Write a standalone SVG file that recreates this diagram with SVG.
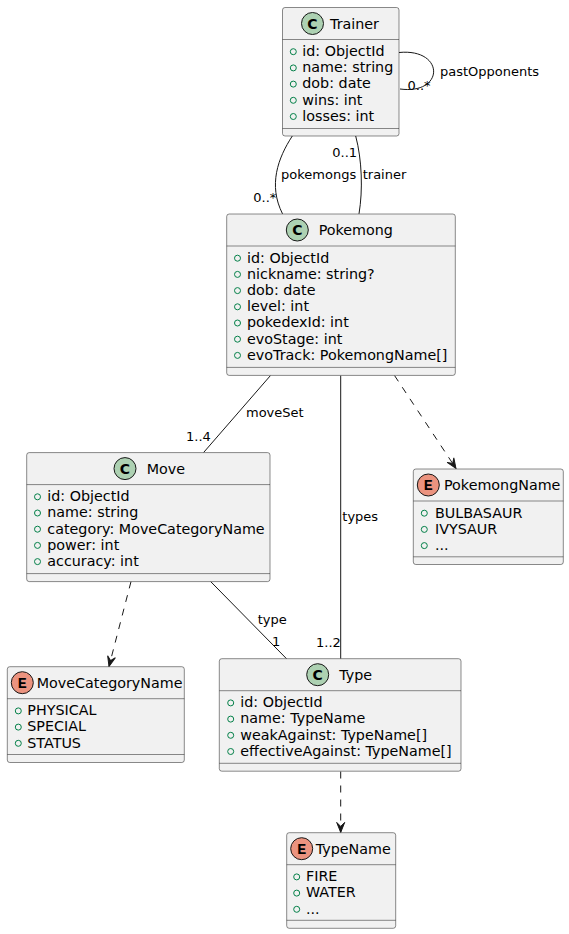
<svg xmlns="http://www.w3.org/2000/svg" width="569" height="934" viewBox="0 0 569 934">
<style>
.box{fill:#F1F1F1;stroke:#181818;stroke-width:0.5}
.div{stroke:#181818;stroke-width:0.5}
.ci{fill:#ADD1B2;stroke:#181818;stroke-width:1}
.ei{fill:#EB937F;stroke:#181818;stroke-width:1}
.cl{font-family:"DejaVu Sans",sans-serif;font-size:14px;font-weight:bold;fill:#000;text-anchor:middle}
.el{font-family:"Liberation Mono","DejaVu Sans Mono",monospace;font-size:15px;font-weight:bold;fill:#000;text-anchor:middle}
.t{font-family:"DejaVu Sans",sans-serif;font-size:14.3px;fill:#000}
.v{fill:none;stroke:#038048;stroke-width:1}
.lb{font-family:"DejaVu Sans",sans-serif;font-size:13px;fill:#000}
.ln{fill:none;stroke:#181818;stroke-width:1}
.dash{fill:none;stroke:#181818;stroke-width:1;stroke-dasharray:7,7}
</style>
<defs>
<marker id="arr" viewBox="-12 -6 13 12" refX="0" refY="0" markerWidth="13" markerHeight="12" orient="auto" markerUnits="userSpaceOnUse">
<path d="M0,0 L-10,-4 L-6,0 L-10,4 Z" fill="#181818" stroke="#181818" stroke-width="1"/>
</marker>
</defs>

<g id="connectors">
<path class="ln" d="M399,52.5 C445,48 445,95 400,89"/>
<path class="ln" d="M292.3,136 C278,158 268,185 282.5,213.8"/>
<path class="ln" d="M355.7,136 C362,160 363,190 359,213.8"/>
<path class="ln" d="M270.5,375.5 L203.5,452.6"/>
<path class="ln" d="M340.7,375.5 L340.7,658.7"/>
<path class="dash" d="M394.5,375.5 L456,468.5" marker-end="url(#arr)"/>
<path class="dash" d="M131,581.6 L109,666.4" marker-end="url(#arr)"/>
<path class="ln" d="M210.7,581.6 L286.5,658.7"/>
<path class="dash" d="M340.7,771.5 L340.7,832.4" marker-end="url(#arr)"/>
<text class="lb" x="440" y="75.5">pastOpponents</text>
<text class="lb" x="407.5" y="89.5">0..*</text>
<text class="lb" x="332.3" y="156.5">0..1</text>
<text class="lb" x="281" y="178.5">pokemongs</text>
<text class="lb" x="362.7" y="178.5">trainer</text>
<text class="lb" x="253.3" y="201.5">0..*</text>
<text class="lb" x="246" y="417">moveSet</text>
<text class="lb" x="186" y="441">1..4</text>
<text class="lb" x="342.3" y="521">types</text>
<text class="lb" x="257.7" y="623.5">type</text>
<text class="lb" x="272" y="646">1</text>
<text class="lb" x="316" y="646.5">1..2</text>
</g>

<g id="Trainer">
<rect class="box" x="282.5" y="7.5" width="116.5" height="128.5" rx="2.5"/>
<circle class="ci" cx="312.5" cy="23.5" r="11"/>
<text class="cl" x="312.5" y="28.5">C</text>
<text class="t" x="330" y="28.8">Trainer</text>
<line class="div" x1="282.5" y1="39.5" x2="399" y2="39.5"/>
<circle class="v" cx="293.3" cy="51.7" r="3"/><text class="t" x="302.3" y="56">id: ObjectId</text>
<circle class="v" cx="293.3" cy="67.9" r="3"/><text class="t" x="302.3" y="72.2">name: string</text>
<circle class="v" cx="293.3" cy="84.1" r="3"/><text class="t" x="302.3" y="88.4">dob: date</text>
<circle class="v" cx="293.3" cy="100.3" r="3"/><text class="t" x="302.3" y="104.6">wins: int</text>
<circle class="v" cx="293.3" cy="116.5" r="3"/><text class="t" x="302.3" y="120.8">losses: int</text>
<line class="div" x1="282.5" y1="128.5" x2="399" y2="128.5"/>
</g>

<g id="Pokemong">
<rect class="box" x="226.7" y="214" width="228.6" height="161.4" rx="2.5"/>
<circle class="ci" cx="297.3" cy="230" r="11"/>
<text class="cl" x="297.3" y="235">C</text>
<text class="t" x="318.7" y="235.3">Pokemong</text>
<line class="div" x1="226.7" y1="246" x2="455.3" y2="246"/>
<circle class="v" cx="237.5" cy="258.2" r="3"/><text class="t" x="247" y="262.5">id: ObjectId</text>
<circle class="v" cx="237.5" cy="274.4" r="3"/><text class="t" x="247" y="278.7">nickname: string?</text>
<circle class="v" cx="237.5" cy="290.6" r="3"/><text class="t" x="247" y="294.9">dob: date</text>
<circle class="v" cx="237.5" cy="306.8" r="3"/><text class="t" x="247" y="311.1">level: int</text>
<circle class="v" cx="237.5" cy="323" r="3"/><text class="t" x="247" y="327.3">pokedexId: int</text>
<circle class="v" cx="237.5" cy="339.2" r="3"/><text class="t" x="247" y="343.5">evoStage: int</text>
<circle class="v" cx="237.5" cy="355.4" r="3"/><text class="t" x="247" y="359.7">evoTrack: PokemongName[]</text>
<line class="div" x1="226.7" y1="367.4" x2="455.3" y2="367.4"/>
</g>

<g id="Move">
<rect class="box" x="26.7" y="452.6" width="243.3" height="129" rx="2.5"/>
<circle class="ci" cx="125" cy="468.6" r="11"/>
<text class="cl" x="125" y="473.6">C</text>
<text class="t" x="146.7" y="473.9">Move</text>
<line class="div" x1="26.7" y1="484.6" x2="270" y2="484.6"/>
<circle class="v" cx="37.5" cy="496.8" r="3"/><text class="t" x="47.3" y="501.1">id: ObjectId</text>
<circle class="v" cx="37.5" cy="513" r="3"/><text class="t" x="47.3" y="517.3">name: string</text>
<circle class="v" cx="37.5" cy="529.2" r="3"/><text class="t" x="47.3" y="533.5">category: MoveCategoryName</text>
<circle class="v" cx="37.5" cy="545.4" r="3"/><text class="t" x="47.3" y="549.7">power: int</text>
<circle class="v" cx="37.5" cy="561.6" r="3"/><text class="t" x="47.3" y="565.9">accuracy: int</text>
<line class="div" x1="26.7" y1="573.6" x2="270" y2="573.6"/>
</g>

<g id="PokemongName">
<rect class="box" x="413.3" y="469" width="150" height="95.5" rx="2.5"/>
<circle class="ei" cx="428.3" cy="485" r="11"/>
<text class="el" x="428.3" y="490">E</text>
<text class="t" x="444" y="490.3">PokemongName</text>
<line class="div" x1="413.3" y1="501" x2="563.3" y2="501"/>
<circle class="v" cx="424.3" cy="513.2" r="3"/><text class="t" x="435" y="517.5">BULBASAUR</text>
<circle class="v" cx="424.3" cy="529.4" r="3"/><text class="t" x="435" y="533.7">IVYSAUR</text>
<circle class="v" cx="424.3" cy="545.6" r="3"/><text class="t" x="435" y="549.9">...</text>
<line class="div" x1="413.3" y1="556.8" x2="563.3" y2="556.8"/>
</g>

<g id="MoveCategoryName">
<rect class="box" x="7.3" y="666.7" width="177" height="95.8" rx="2.5"/>
<circle class="ei" cx="22.3" cy="682.7" r="11"/>
<text class="el" x="22.3" y="687.7">E</text>
<text class="t" x="36.7" y="688">MoveCategoryName</text>
<line class="div" x1="7.3" y1="698.7" x2="184.3" y2="698.7"/>
<circle class="v" cx="18.3" cy="710.9" r="3"/><text class="t" x="27.3" y="715.2">PHYSICAL</text>
<circle class="v" cx="18.3" cy="727.1" r="3"/><text class="t" x="27.3" y="731.4">SPECIAL</text>
<circle class="v" cx="18.3" cy="743.3" r="3"/><text class="t" x="27.3" y="747.6">STATUS</text>
<line class="div" x1="7.3" y1="754.5" x2="184.3" y2="754.5"/>
</g>

<g id="Type">
<rect class="box" x="219.3" y="658.7" width="241.7" height="112.5" rx="2.5"/>
<circle class="ci" cx="317.7" cy="674.7" r="11"/>
<text class="cl" x="317.7" y="679.7">C</text>
<text class="t" x="339.3" y="680">Type</text>
<line class="div" x1="219.3" y1="690.7" x2="461" y2="690.7"/>
<circle class="v" cx="230.7" cy="702.9" r="3"/><text class="t" x="240.3" y="707.2">id: ObjectId</text>
<circle class="v" cx="230.7" cy="719.1" r="3"/><text class="t" x="240.3" y="723.4">name: TypeName</text>
<circle class="v" cx="230.7" cy="735.3" r="3"/><text class="t" x="240.3" y="739.6">weakAgainst: TypeName[]</text>
<circle class="v" cx="230.7" cy="751.5" r="3"/><text class="t" x="240.3" y="755.8">effectiveAgainst: TypeName[]</text>
<line class="div" x1="219.3" y1="763.3" x2="461" y2="763.3"/>
</g>

<g id="TypeName">
<rect class="box" x="286.7" y="832.7" width="109" height="95.6" rx="2.5"/>
<circle class="ei" cx="301.7" cy="848.7" r="11"/>
<text class="el" x="301.7" y="853.7">E</text>
<text class="t" x="315.7" y="854">TypeName</text>
<line class="div" x1="286.7" y1="864.7" x2="395.7" y2="864.7"/>
<circle class="v" cx="296.7" cy="876.9" r="3"/><text class="t" x="306" y="881.2">FIRE</text>
<circle class="v" cx="296.7" cy="893.1" r="3"/><text class="t" x="306" y="897.4">WATER</text>
<circle class="v" cx="296.7" cy="909.3" r="3"/><text class="t" x="306" y="913.6">...</text>
<line class="div" x1="286.7" y1="920.3" x2="395.7" y2="920.3"/>
</g>
</svg>
